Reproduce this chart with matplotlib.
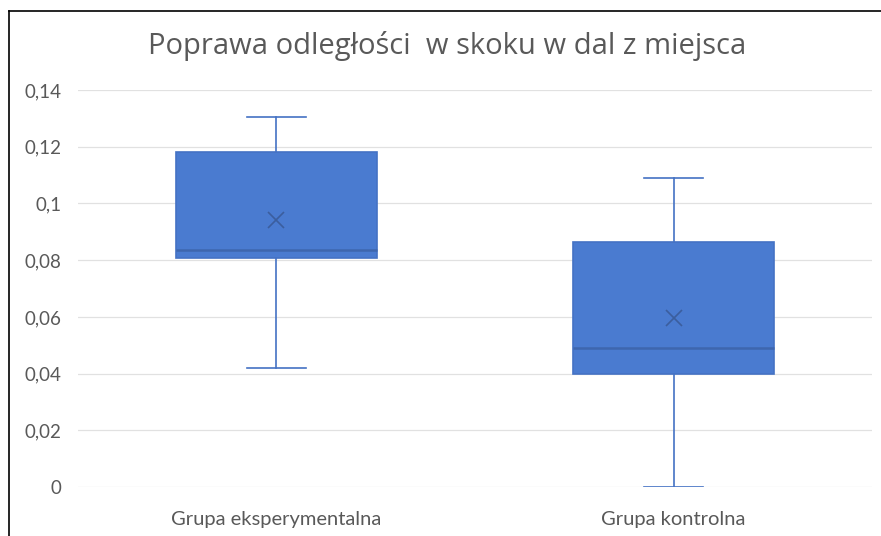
import matplotlib
matplotlib.use('Agg')
import matplotlib.pyplot as plt
from matplotlib.lines import Line2D
from matplotlib.ticker import FuncFormatter

# values
groups = ['Grupa eksperymentalna', 'Grupa kontrolna']
whislo = [0.042, 0.0]
q1 = [0.0808, 0.0398]
med = [0.0836, 0.049]
q3 = [0.1181, 0.0864]
whishi = [0.1305, 0.109]
means = [0.0942, 0.0596]

stats = []
for i in range(len(groups)):
    stats.append(dict(label=groups[i], whislo=whislo[i], q1=q1[i], med=med[i],
                      q3=q3[i], whishi=whishi[i], mean=means[i], fliers=[]))

fig = plt.figure(figsize=(8.81, 5.36), dpi=100)
ax = fig.add_axes([0.0885, 0.0914, 0.9013, 0.7406])

blue = '#4A7BD0'
edge = '#4472C4'
ax.bxp(stats, positions=[0, 1], widths=0.505, capwidths=0.15, patch_artist=True,
       showmeans=True, meanline=False,
       boxprops=dict(facecolor=blue, edgecolor=edge, linewidth=1.2),
       medianprops=dict(color='#3E66AE', linewidth=1.8),
       whiskerprops=dict(color=edge, linewidth=1.2),
       capprops=dict(color=edge, linewidth=1.2),
       meanprops=dict(marker='x', markeredgecolor='#3B5E9E', markersize=11,
                      markeredgewidth=1.2))

ax.set_xlim(-0.5, 1.5)
ax.set_ylim(0, 0.14)
ax.set_yticks([0, 0.02, 0.04, 0.06, 0.08, 0.1, 0.12, 0.14])
ax.yaxis.set_major_formatter(FuncFormatter(lambda v, p: f'{v:g}'.replace('.', ',')))
ax.set_xticks([0, 1])
ax.set_xticklabels(groups)
ax.grid(axis='y', color='#E1E1E1', linewidth=0.9)
ax.set_axisbelow(True)
for s in ax.spines.values():
    s.set_visible(False)
ax.tick_params(length=0, colors='#595959')
ax.tick_params(axis='y', pad=12, labelsize=13.5)
ax.tick_params(axis='x', pad=17, labelsize=14.5)
for t in ax.get_xticklabels() + ax.get_yticklabels():
    t.set_family('Lato')

fig.text(0.508, 0.914, 'Poprawa odległości  w skoku w dal z miejsca', ha='center',
         va='center', fontsize=21, color='#595959', family='Open Sans')

# chart border (left and top)
fig.add_artist(Line2D([9/881, 9/881], [0, 1 - 11/536], color='black', linewidth=1.2))
fig.add_artist(Line2D([9/881, 1], [1 - 11/536, 1 - 11/536], color='black', linewidth=1.2))

fig.savefig('out.png', dpi=100)
